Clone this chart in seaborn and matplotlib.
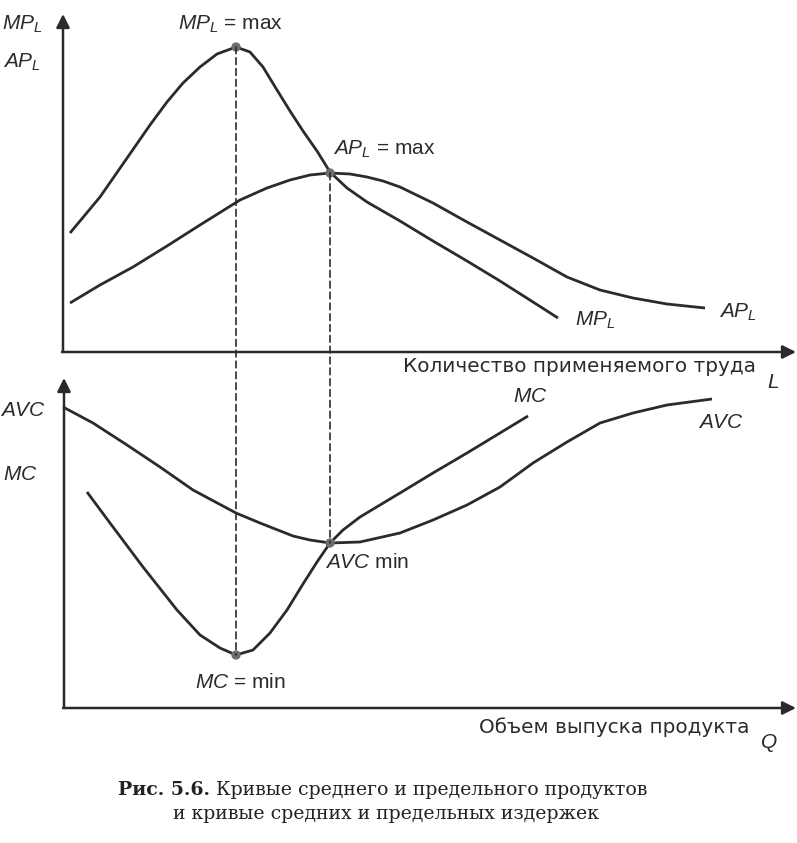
import numpy as np
import matplotlib
matplotlib.use("Agg")
import matplotlib.pyplot as plt
from matplotlib.patches import ConnectionPatch
import seaborn as sns

# upper panel: labour L, curve heights above the L axis
labour_mp = [70, 85, 100, 125, 150, 167, 183, 200, 217, 236, 250, 263, 277, 290, 303, 317,
             330, 347, 367, 400, 433, 467, 500, 533, 558]
mp_l = [119, 137, 155, 191, 227, 250, 269, 285, 298, 305, 300, 285, 262, 241, 221, 201,
        180, 164, 150, 131, 111, 91, 71, 50, 34]
labour_ap = [70, 100, 133, 167, 200, 240, 267, 290, 310, 330, 350, 367, 383, 400, 433, 467, 500,
             533, 567, 600, 633, 667, 705]
ap_l = [49, 67, 85, 106, 127, 152, 164, 172, 177, 179, 178, 175, 171, 165, 149, 130, 112,
        94, 75, 62, 54, 48, 44]

# lower panel: output Q, cost heights above the Q axis
output_avc = [63, 93, 127, 160, 193, 236, 260, 293, 310, 330, 360, 400, 433, 467, 500, 533, 567,
              600, 633, 667, 712]
avc = [301, 285, 263, 241, 218, 195, 185, 172, 168, 165, 166, 175, 188, 203, 221, 245, 266,
       285, 295, 303, 309]
output_mc = [87, 110, 143, 177, 200, 220, 236, 253, 270, 287, 303, 317, 330, 343, 360, 400,
             433, 467, 500, 528]
mc = [216, 185, 141, 98, 73, 60, 53, 58, 75, 98, 124, 146, 165, 178, 191, 215,
      235, 255, 275, 292]

sns.set_theme(style="white")
plt.rcParams['font.family'] = ['Liberation Sans', 'DejaVu Sans']
plt.rcParams['mathtext.fontset'] = 'custom'
plt.rcParams['mathtext.it'] = 'Liberation Sans:italic'
plt.rcParams['mathtext.rm'] = 'Liberation Sans'

W, H = 797, 843
ink = '#2b2b2b'
fig = plt.figure(figsize=(W / 100, H / 100), dpi=100)
fig.patch.set_facecolor('white')

# top axes: bottom edge at pixel row 352, bottom axes: bottom edge at 708
ax1 = fig.add_axes([0, 1 - 352 / H, 1, 352 / H])
ax2 = fig.add_axes([0, 1 - 708 / H, 1, (708 - 360) / H])
ax1.set_xlim(0, W)
ax1.set_ylim(0, 352)
ax2.set_xlim(0, W)
ax2.set_ylim(0, 348)
for ax in (ax1, ax2):
    ax.axis('off')

arrow = dict(arrowstyle='-|>', mutation_scale=20, lw=1.8, color=ink, shrinkA=0, shrinkB=0)
ax1.annotate('', xy=(63, 338), xytext=(63, 0), arrowprops=arrow)
ax1.annotate('', xy=(796, 0), xytext=(62, 0), arrowprops=arrow)
ax2.annotate('', xy=(64, 330), xytext=(64, 0), arrowprops=arrow)
ax2.annotate('', xy=(796, 0), xytext=(63, 0), arrowprops=arrow)

line_kw = dict(color=ink, lw=2.0, estimator=None, solid_joinstyle='round', solid_capstyle='butt')
sns.lineplot(x=labour_mp, y=mp_l, ax=ax1, **line_kw)
sns.lineplot(x=labour_ap, y=ap_l, ax=ax1, **line_kw)
sns.lineplot(x=output_avc, y=avc, ax=ax2, **line_kw)
sns.lineplot(x=output_mc, y=mc, ax=ax2, **line_kw)

# special points
i_mp = int(np.argmax(mp_l))
i_ap = int(np.argmax(ap_l))
i_mc = int(np.argmin(mc))
i_avc = int(np.argmin(avc))
mp_pt = (labour_mp[i_mp], mp_l[i_mp])
ap_pt = (labour_ap[i_ap], ap_l[i_ap])
mc_pt = (output_mc[i_mc], mc[i_mc])
avc_pt = (output_avc[i_avc], avc[i_avc])

# dashed verticals through both panels
for a, b in [(mp_pt, mc_pt), (ap_pt, avc_pt)]:
    con = ConnectionPatch(xyA=a, coordsA=ax1.transData, xyB=b, coordsB=ax2.transData,
                          linestyle=(0, (4, 2.5)), lw=1.2, color=ink)
    fig.add_artist(con)

sns.scatterplot(x=[mp_pt[0], ap_pt[0]], y=[mp_pt[1], ap_pt[1]], ax=ax1, s=45,
                color='#6e6e6e', edgecolor='none', zorder=5)
sns.scatterplot(x=[mc_pt[0], avc_pt[0]], y=[mc_pt[1], avc_pt[1]], ax=ax2, s=45,
                color='#6e6e6e', edgecolor='none', zorder=5)

t1 = dict(fontsize=15, color=ink, va='center')
ru = dict(fontsize=14.4, color=ink, va='center', family=['DejaVu Sans'])
# upper panel labels (y = 352 - pixel row)
ax1.text(2, 352 - 24, '$MP_L$', ha='left', **t1)
ax1.text(3, 352 - 62, '$AP_L$', ha='left', **t1)
ax1.text(178, 352 - 24, '$MP_L$ = max', ha='left', **t1)
ax1.text(333, 352 - 149, '$AP_L$ = max', ha='left', **t1)
ax1.text(575, 352 - 320, '$MP_L$', ha='left', **t1)
ax1.text(719, 352 - 312, '$AP_L$', ha='left', **t1)
ax1.text(403, 352 - 366, 'Количество применяемого труда', ha='left', **ru)
ax1.text(767, 352 - 383, '$L$', ha='left', **t1)

# lower panel labels (y = 708 - pixel row)
ax2.text(0, 708 - 410, '$AVC$', ha='left', **t1)
ax2.text(3, 708 - 475, '$MC$', ha='left', **t1)
ax2.text(513, 708 - 396, '$MC$', ha='left', **t1)
ax2.text(698, 708 - 423, '$AVC$', ha='left', **t1)
ax2.text(325, 708 - 563, '$AVC$ min', ha='left', **t1)
ax2.text(195, 708 - 682, '$MC$ = min', ha='left', **t1)
ax2.text(750, 708 - 727, 'Объем выпуска продукта', ha='right', **ru)
ax2.text(760, 708 - 743, '$Q$', ha='left', **t1)

# caption
cap = dict(fontsize=13.6, color='#222222', va='baseline', ha='left', family=['DejaVu Serif'])
fig.text(118 / W, 1 - 795 / H, 'Рис. 5.6.', fontweight='bold', **cap)
fig.text(216 / W, 1 - 795 / H, 'Кривые среднего и предельного продуктов', **cap)
fig.text(173 / W, 1 - 819 / H, 'и кривые средних и предельных издержек', **cap)

fig.savefig('out.png', dpi=100, facecolor='white')
